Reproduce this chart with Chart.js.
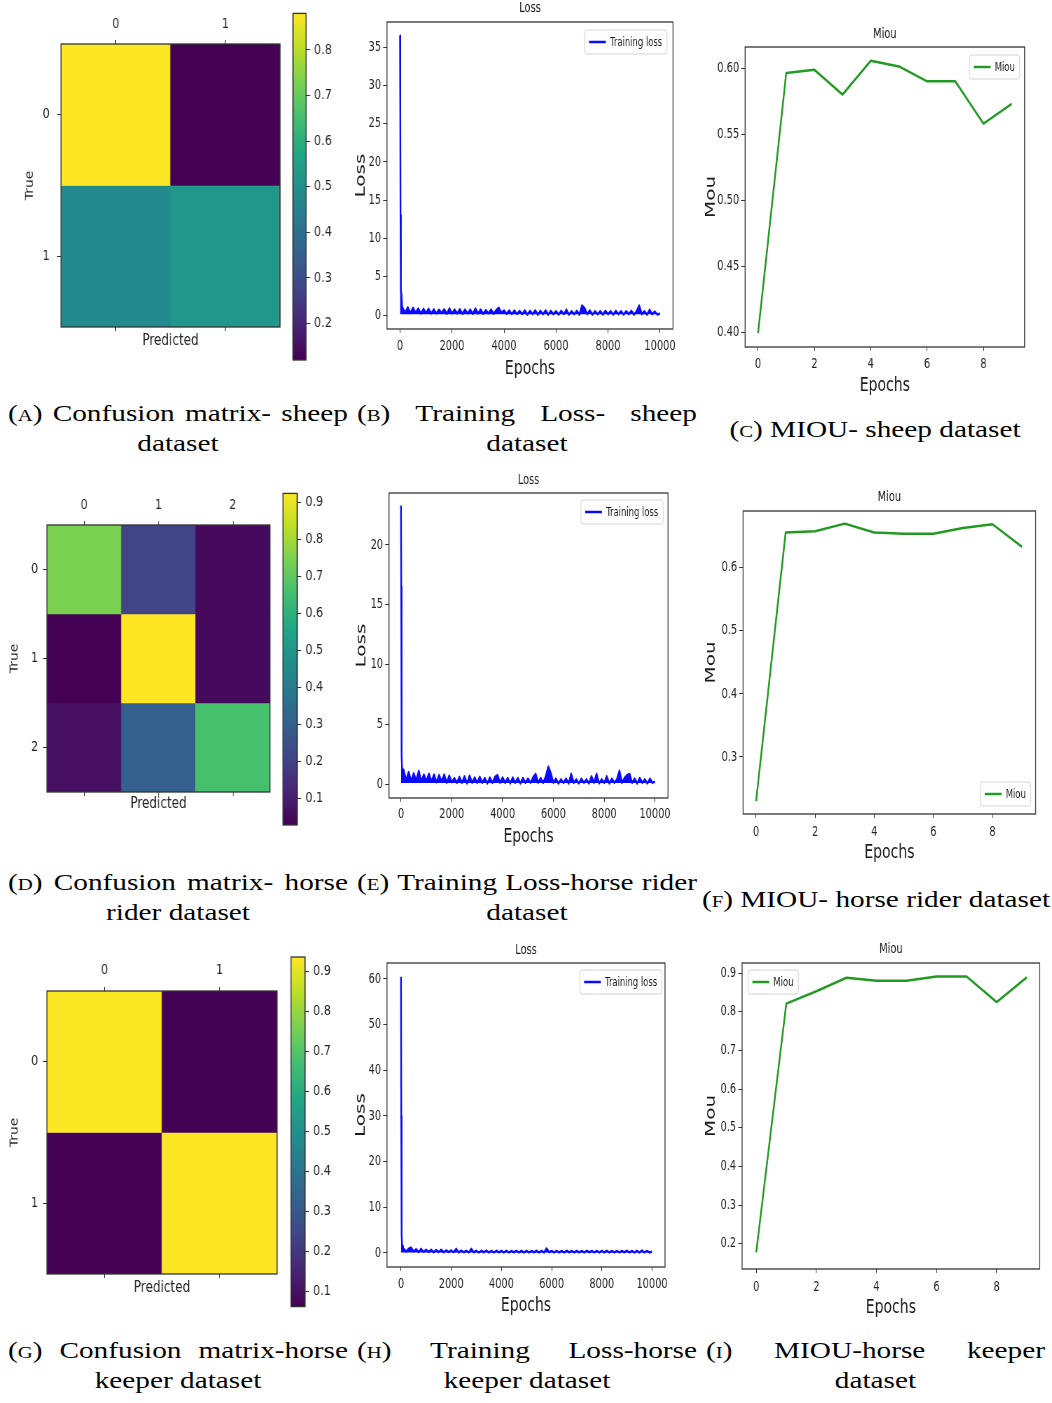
<!DOCTYPE html>
<html>
<head>
<meta charset="utf-8">
<script src="https://cdn.jsdelivr.net/npm/chart.js@4.4.0/dist/chart.umd.min.js"></script>
<style>
  body { margin: 0; background: #fff; }
  #figure { position: relative; width: 1052px; height: 1403px; overflow: hidden; background: #fff; }
  .box { position: absolute; transform-origin: 0 0; }
  .cap { position: absolute; font-family: 'Liberation Serif', 'Times New Roman', serif; font-size: 24px;
         line-height: 30px; color: #000; transform-origin: 0 0; transform: scaleX(1.22); white-space: nowrap; }
  .cap.j { display: flex; justify-content: space-between; }
  .cap.c { text-align: center; }
  .sc { font-variant: small-caps; }
</style>
</head>
<body>
<div id="figure"></div>
<script>
// ---- data ----
const miouEpochs = [0, 1, 2, 3, 4, 5, 6, 7, 8, 9];
const miouSheep  = [0.3995, 0.5964, 0.5987, 0.580, 0.6056, 0.6013, 0.590, 0.590, 0.558, 0.573];
const miouRider  = [0.230, 0.656, 0.658, 0.670, 0.656, 0.654, 0.654, 0.663, 0.669, 0.633];
const miouKeeper = [0.178, 0.821, 0.853, 0.888, 0.880, 0.880, 0.891, 0.891, 0.825, 0.889];

const lossEpochsEarly = [0, 10, 20, 30, 40, 60, 80];
const lossEpochs = [
  100, 200, 300, 400, 500, 600, 700, 800, 900, 1000,
  1100, 1200, 1300, 1400, 1500, 1600, 1700, 1800, 1900, 2000,
  2100, 2200, 2300, 2400, 2500, 2600, 2700, 2800, 2900, 3000,
  3100, 3200, 3300, 3400, 3500, 3600, 3700, 3800, 3900, 4000,
  4100, 4200, 4300, 4400, 4500, 4600, 4700, 4800, 4900, 5000,
  5100, 5200, 5300, 5400, 5500, 5600, 5700, 5800, 5900, 6000,
  6100, 6200, 6300, 6400, 6500, 6600, 6700, 6800, 6900, 7000,
  7100, 7200, 7300, 7400, 7500, 7600, 7700, 7800, 7900, 8000,
  8100, 8200, 8300, 8400, 8500, 8600, 8700, 8800, 8900, 9000,
  9100, 9200, 9300, 9400, 9500, 9600, 9700, 9800, 9900, 10000];

const lossSheepEarly = [36.5, 27, 13, 6, 3.2, 2.6, 1.2];
const lossSheep = [
  0.9, 0.3, 1.0, 0.25, 0.95, 0.3, 0.85, 0.2, 0.8, 0.25,
  0.8, 0.2, 0.75, 0.2, 0.7, 0.25, 0.75, 0.15, 0.85, 0.2,
  0.7, 0.2, 0.75, 0.15, 0.7, 0.2, 0.7, 0.15, 0.85, 0.2,
  0.7, 0.15, 0.65, 0.2, 0.7, 0.15, 0.65, 0.95, 0.3, 0.6,
  0.15, 0.6, 0.1, 0.6, 0.1, 0.55, 0.1, 0.6, 0.05, 0.55,
  0.1, 0.6, 0.05, 0.55, 0.1, 0.6, 0.05, 0.55, 0.1, 0.5,
  0.05, 0.55, 0.1, 0.7, 0.05, 0.5, 0.1, 0.55, 0.05, 1.25,
  0.9, 0.1, 0.6, 0.05, 0.5, 0.1, 0.5, 0.05, 0.55, 0.1,
  0.5, 0.05, 0.55, 0.1, 0.5, 0.05, 0.5, 0.1, 0.55, 0.05,
  0.5, 1.25, 0.1, 0.5, 0.05, 0.7, 0.1, 0.45, 0.05, 0.2];

const lossRiderEarly = [23.3, 16.5, 5, 2.4, 1.4, 1.2, 0.6];
const lossRider = [
  1.2, 0.3, 1.0, 0.25, 0.9, 0.3, 1.1, 0.2, 0.8, 0.25,
  0.85, 0.2, 0.8, 0.15, 0.75, 0.2, 0.8, 0.1, 0.7, 0.15,
  0.5, 0.1, 0.6, 0.1, 0.65, 0.05, 0.7, 0.1, 0.55, 0.1,
  0.6, 0.1, 0.5, 0.05, 0.55, 0.1, 0.6, 0.75, 0.1, 0.55,
  0.1, 0.5, 0.05, 0.55, 0.1, 0.5, 0.05, 0.5, 0.1, 0.45,
  0.1, 0.55, 0.85, 0.1, 0.5, 0.1, 0.65, 1.45, 0.9, 0.1,
  0.45, 0.05, 0.4, 0.1, 0.45, 0.05, 0.85, 0.1, 0.4, 0.05,
  0.45, 0.1, 0.4, 0.05, 0.65, 0.1, 0.85, 0.05, 0.4, 0.1,
  0.65, 0.05, 0.45, 0.1, 0.4, 1.1, 0.1, 0.5, 0.75, 0.85,
  0.1, 0.45, 0.05, 0.5, 0.1, 0.4, 0.05, 0.45, 0.1, 0.2];

const lossKeeperEarly = [60.5, 30, 7.5, 4, 2, 1.5, 0.8];
const lossKeeper = [
  1.0, 0.3, 0.9, 1.2, 0.3, 0.8, 0.2, 0.9, 0.25, 0.7,
  0.2, 0.7, 0.15, 0.65, 0.2, 0.7, 0.15, 0.6, 0.2, 0.55,
  0.15, 0.9, 0.1, 0.55, 0.15, 0.5, 0.1, 0.9, 0.15, 0.5,
  0.1, 0.5, 0.15, 0.55, 0.1, 0.5, 0.1, 0.5, 0.15, 0.45,
  0.1, 0.5, 0.1, 0.45, 0.15, 0.5, 0.1, 0.45, 0.1, 0.5,
  0.1, 0.45, 0.15, 0.5, 0.1, 0.45, 0.1, 1.0, 0.15, 0.45,
  0.1, 0.5, 0.1, 0.45, 0.1, 0.5, 0.15, 0.45, 0.1, 0.5,
  0.1, 0.45, 0.1, 0.5, 0.15, 0.45, 0.1, 0.5, 0.1, 0.45,
  0.15, 0.5, 0.1, 0.45, 0.1, 0.5, 0.1, 0.45, 0.15, 0.5,
  0.1, 0.45, 0.1, 0.5, 0.1, 0.55, 0.1, 0.45, 0.1, 0.3];

const cmLabelsSheep = ['0', '1'];
const cmSheep = [[0.88, 0.12], [0.48, 0.52]];
const cmLabelsRider = ['0', '1', '2'];
const cmRider = [[0.745, 0.205, 0.05], [0.027, 0.924, 0.049], [0.062, 0.30, 0.66]];
const cmLabelsKeeper = ['0', '1'];
const cmKeeper = [[0.935, 0.065], [0.063, 0.937]];

const cbTicksSheep = [0.2, 0.3, 0.4, 0.5, 0.6, 0.7, 0.8];
const cbTicksRider = [0.1, 0.2, 0.3, 0.4, 0.5, 0.6, 0.7, 0.8, 0.9];
const cbTicksKeeper = [0.1, 0.2, 0.3, 0.4, 0.5, 0.6, 0.7, 0.8, 0.9];

const epochTicks = [0, 2000, 4000, 6000, 8000, 10000];
const lossTicksSheep = [0, 5, 10, 15, 20, 25, 30, 35];
const lossTicksRider = [0, 5, 10, 15, 20];
const lossTicksKeeper = [0, 10, 20, 30, 40, 50, 60];
const miouEpochTicks = [0, 2, 4, 6, 8];
const miouTicksSheep = [0.40, 0.45, 0.50, 0.55, 0.60];
const miouTicksRider = [0.3, 0.4, 0.5, 0.6];
const miouTicksKeeper = [0.2, 0.3, 0.4, 0.5, 0.6, 0.7, 0.8, 0.9];

// ---- colour map ----
const VIRIDIS = ['#440154', '#482475', '#414487', '#355f8d', '#2a788e', '#21918c',
                 '#22a884', '#44bf70', '#7ad151', '#bddf26', '#fde725'];
function hexRgb(h) {
  return [1, 3, 5].map(i => parseInt(h.slice(i, i + 2), 16));
}
function viridis(t) {
  t = Math.max(0, Math.min(1, t));
  const k = t * 10, i = Math.min(9, Math.floor(k)), f = k - i;
  const a = hexRgb(VIRIDIS[i]), b = hexRgb(VIRIDIS[i + 1]);
  return 'rgb(' + a.map((v, j) => Math.round(v + (b[j] - v) * f)).join(',') + ')';
}
function viridisGradient(chart) {
  const a = chart.chartArea;
  if (!a) return viridis(0.5);
  const g = chart.ctx.createLinearGradient(0, a.bottom, 0, a.top);
  VIRIDIS.forEach((c, i) => g.addColorStop(i / (VIRIDIS.length - 1), c));
  return g;
}

Chart.defaults.font.family = "'DejaVu Sans', sans-serif";
Chart.defaults.color = '#262626';

// frame, title and legend box, matplotlib style
const panelPlugin = {
  id: 'panel',
  afterDraw(chart, args, o) {
    const {ctx, chartArea: a} = chart;
    ctx.save();
    ctx.strokeStyle = '#333';
    ctx.lineWidth = 1.3;
    ctx.strokeRect(a.left, a.top, a.right - a.left, a.bottom - a.top);
    if (o.title) {
      ctx.fillStyle = '#1a1a1a';
      ctx.font = '14px "DejaVu Sans"';
      ctx.textAlign = 'center';
      ctx.textBaseline = 'middle';
      ctx.fillText(o.title, (a.left + a.right) / 2, a.top - o.titleGap);
    }
    if (o.legend) {
      ctx.font = '12px "DejaVu Sans"';
      const w = 36 + ctx.measureText(o.legend).width + 7, h = 24;
      const x = o.corner.indexOf('right') >= 0 ? a.right - o.inset[0] - w : a.left + o.inset[0];
      const y = o.corner.indexOf('bottom') >= 0 ? a.bottom - o.inset[1] - h : a.top + o.inset[1];
      ctx.fillStyle = 'rgba(255,255,255,0.85)';
      ctx.strokeStyle = '#d2d2d2';
      ctx.lineWidth = 1;
      ctx.beginPath();
      ctx.roundRect(x, y, w, h, 3);
      ctx.fill();
      ctx.stroke();
      ctx.strokeStyle = o.color;
      ctx.lineWidth = 2.5;
      ctx.beginPath();
      ctx.moveTo(x + 6, y + h / 2);
      ctx.lineTo(x + 30, y + h / 2);
      ctx.stroke();
      ctx.fillStyle = '#1a1a1a';
      ctx.textAlign = 'left';
      ctx.textBaseline = 'middle';
      ctx.fillText(o.legend, x + 36, y + h / 2 + 0.5);
    }
    ctx.restore();
  }
};
Chart.register(panelPlugin);

const fig = document.getElementById('figure');

// the source figure is squeezed sideways, so each canvas is drawn wide and scaled down in x
function makeBox(left, top, width, height, s) {
  const div = document.createElement('div');
  div.className = 'box';
  div.style.left = left + 'px';
  div.style.top = top + 'px';
  div.style.width = (width / s) + 'px';
  div.style.height = height + 'px';
  div.style.transform = 'scaleX(' + s + ')';
  const cv = document.createElement('canvas');
  div.appendChild(cv);
  fig.appendChild(div);
  return cv;
}

function tickGrid(len) {
  return {display: true, drawOnChartArea: false, drawTicks: true, tickLength: len, color: '#333', offset: false};
}

function linePanel(p) {
  const s = p.s;
  const cv = makeBox(p.left, p.top, p.width, p.height, s);
  const W = p.width / s;
  const plotL = (p.plot[0] - p.left) / s;
  const plotR = (p.plot[2] - p.left) / s;
  const points = p.xs.map((x, i) => ({x: x, y: p.ys[i]}));
  new Chart(cv, {
    type: 'line',
    data: {datasets: [{label: p.legend, data: points, borderColor: p.color, borderWidth: p.lw,
                       borderJoinStyle: 'round', pointRadius: 0, tension: 0,
                       // noisy loss: the dense band of the original is shaded down to its floor
                       fill: p.floor === undefined ? false : {value: p.floor},
                       backgroundColor: p.color}]},
    options: {
      animation: false, responsive: true, maintainAspectRatio: false, events: [],
      layout: {padding: {left: 0, top: p.plot[1] - p.top, right: W - plotR, bottom: 0}},
      plugins: {
        legend: {display: false}, tooltip: {enabled: false},
        panel: {title: p.title, titleGap: p.titleGap, legend: p.legend, color: p.color, corner: p.corner, inset: p.inset}
      },
      scales: {
        x: {
          type: 'linear', min: p.xRange[0], max: p.xRange[1],
          afterBuildTicks: sc => { sc.ticks = p.xTicks.map(v => ({value: v})); },
          afterFit: sc => { sc.height = p.top + p.height - p.plot[3]; },
          ticks: {font: {size: 14}, padding: p.xPad, maxRotation: 0, autoSkip: false, callback: v => String(v)},
          grid: tickGrid(4),
          border: {display: false},
          title: {display: true, text: 'Epochs', font: {size: 20}, color: '#1a1a1a', padding: {top: 0, bottom: p.xTitlePad}}
        },
        y: {
          type: 'linear', min: p.yRange[0], max: p.yRange[1],
          afterBuildTicks: sc => { sc.ticks = p.yTicks.map(v => ({value: v})); },
          afterFit: sc => { sc.width = plotL; },
          ticks: {font: {size: 14}, padding: 3, autoSkip: false, callback: p.yFmt},
          grid: tickGrid(5.5),
          border: {display: false},
          title: {display: true, text: p.yTitle, font: {size: 20}, color: '#1a1a1a', padding: {top: p.yTitlePad, bottom: 0}}
        }
      }
    }
  });
}

function matrixRange(m) {
  const flat = m.flat();
  return [Math.min(...flat), Math.max(...flat)];
}

function matrixPanel(p) {
  const s = p.s;
  const cv = makeBox(p.left, p.top, p.width, p.height, s);
  const W = p.width / s;
  const plotL = (p.plot[0] - p.left) / s;
  const plotR = (p.plot[2] - p.left) / s;
  const [lo, hi] = matrixRange(p.matrix);
  const n = p.labels.length;
  const datasets = p.matrix.map((row, r) => ({
    data: row.map(() => [r, r + 1]),
    backgroundColor: row.map(v => viridis((v - lo) / (hi - lo))),
    borderWidth: 0, barPercentage: 1, categoryPercentage: 1, grouped: false
  }));
  new Chart(cv, {
    type: 'bar',
    data: {labels: p.labels, datasets: datasets},
    options: {
      animation: false, responsive: true, maintainAspectRatio: false, events: [],
      layout: {padding: {left: 0, top: 0, right: W - plotR, bottom: 0}},
      plugins: {legend: {display: false}, tooltip: {enabled: false}},
      scales: {
        x: {
          position: 'top', offset: true,
          afterFit: sc => { sc.height = p.plot[1] - p.top; },
          ticks: {font: {size: 14}, padding: p.topPad},
          grid: tickGrid(4),
          border: {display: false}
        },
        x2: {
          type: 'category', position: 'bottom', offset: true,
          afterFit: sc => { sc.height = p.top + p.height - p.plot[3]; },
          ticks: {display: false},
          grid: tickGrid(4),
          border: {display: false},
          title: {display: true, text: 'Predicted', font: {size: 15}, padding: {top: 0, bottom: p.predPad}}
        },
        y: {
          type: 'linear', min: 0, max: n, reverse: true,
          afterBuildTicks: sc => { sc.ticks = p.labels.map((l, i) => ({value: i + 0.5})); },
          afterFit: sc => { sc.width = plotL; },
          ticks: {font: {size: 14}, padding: p.yPad, callback: (v, i) => p.labels[i]},
          grid: tickGrid(5),
          border: {display: false},
          title: {display: true, text: 'True', font: {size: 14}, padding: {top: p.truePad, bottom: 0}}
        }
      }
    }
  });
}

function colorbarPanel(p) {
  const s = p.s;
  const cv = makeBox(p.left, p.top, p.width, p.height, s);
  const W = p.width / s;
  const barL = (p.bar[0] - p.left) / s;
  const barR = (p.bar[2] - p.left) / s;
  const [lo, hi] = matrixRange(p.matrix);
  new Chart(cv, {
    type: 'bar',
    data: {labels: ['scale'], datasets: [{data: [[lo, hi]], backgroundColor: c => viridisGradient(c.chart),
                                          borderWidth: 0, barPercentage: 1, categoryPercentage: 1}]},
    options: {
      animation: false, responsive: true, maintainAspectRatio: false, events: [],
      layout: {padding: {left: barL, top: p.bar[1] - p.top, right: 0, bottom: p.top + p.height - p.bar[3]}},
      plugins: {legend: {display: false}, tooltip: {enabled: false}},
      scales: {
        x: {display: false},
        y: {
          position: 'right', min: lo, max: hi,
          afterBuildTicks: sc => { sc.ticks = p.ticks.map(v => ({value: v})); },
          afterFit: sc => { sc.width = W - barR; },
          ticks: {font: {size: 14}, padding: 5, callback: v => v.toFixed(1)},
          grid: tickGrid(5),
          border: {display: false}
        }
      }
    }
  });
}

const BLUE = '#0a0aff', GREEN = '#229922';
const lossX = lossEpochsEarly.concat(lossEpochs);

// ---- row 1: sheep ----
matrixPanel({left: 0, top: 0, width: 285, height: 370, s: 0.8, plot: [61, 44, 280, 327],
  labels: cmLabelsSheep, matrix: cmSheep, topPad: 7, yPad: 9, truePad: 29, predPad: 20});
colorbarPanel({left: 285, top: 0, width: 65, height: 385, s: 0.8, bar: [293, 10, 306, 360],
  matrix: cmSheep, ticks: cbTicksSheep});
linePanel({left: 350, top: 0, width: 350, height: 385, s: 0.7, plot: [387, 22, 673, 329],
  xs: lossX, ys: lossSheepEarly.concat(lossSheep), color: BLUE, lw: 2.4, floor: 0.1,
  xRange: [-500, 10500], yRange: [-1.83, 38.3], xTicks: epochTicks, yTicks: lossTicksSheep,
  yFmt: v => String(v), yTitle: 'Loss', title: 'Loss', titleGap: 14, legend: 'Training loss',
  corner: 'top-right', inset: [8.6, 8], xPad: 5, xTitlePad: 4, yTitlePad: 3.7});
linePanel({left: 700, top: 20, width: 352, height: 380, s: 0.7, plot: [745, 47, 1024, 347],
  xs: miouEpochs, ys: miouSheep, color: GREEN, lw: 2.5,
  xRange: [-0.46, 9.46], yRange: [0.389, 0.616], xTicks: miouEpochTicks, yTicks: miouTicksSheep,
  yFmt: v => v.toFixed(2), yTitle: 'Mou', title: 'Miou', titleGap: 13, legend: 'Miou',
  corner: 'top-right', inset: [7, 8], xPad: 5, xTitlePad: 2, yTitlePad: 3.7});

// ---- row 2: horse rider ----
matrixPanel({left: 0, top: 480, width: 280, height: 350, s: 0.8, plot: [47, 525, 270, 792],
  labels: cmLabelsRider, matrix: cmRider, topPad: 7, yPad: 6, truePad: 10, predPad: 17});
colorbarPanel({left: 280, top: 480, width: 70, height: 360, s: 0.8, bar: [283, 492, 297, 825],
  matrix: cmRider, ticks: cbTicksRider});
linePanel({left: 350, top: 470, width: 350, height: 385, s: 0.7, plot: [389, 493, 668, 798],
  xs: lossX, ys: lossRiderEarly.concat(lossRider), color: BLUE, lw: 2.4, floor: 0.08,
  xRange: [-472, 10512], yRange: [-1.17, 24.35], xTicks: epochTicks, yTicks: lossTicksRider,
  yFmt: v => String(v), yTitle: 'Loss', title: 'Loss', titleGap: 13, legend: 'Training loss',
  corner: 'top-right', inset: [7, 7], xPad: 4, xTitlePad: 6, yTitlePad: 5});
linePanel({left: 700, top: 480, width: 352, height: 390, s: 0.7, plot: [743, 511, 1035, 814],
  xs: miouEpochs, ys: miouRider, color: GREEN, lw: 2.5,
  xRange: [-0.44, 9.46], yRange: [0.2095, 0.690], xTicks: miouEpochTicks, yTicks: miouTicksRider,
  yFmt: v => v.toFixed(1), yTitle: 'Mou', title: 'Miou', titleGap: 14, legend: 'Miou',
  corner: 'bottom-right', inset: [7, 8], xPad: 6, xTitlePad: 5, yTitlePad: 3.7});

// ---- row 3: horse keeper ----
matrixPanel({left: 0, top: 950, width: 285, height: 360, s: 0.8, plot: [47, 991, 277, 1274],
  labels: cmLabelsKeeper, matrix: cmKeeper, topPad: 8, yPad: 6, truePad: 10, predPad: 13});
colorbarPanel({left: 285, top: 940, width: 65, height: 380, s: 0.8, bar: [291, 957, 305, 1308],
  matrix: cmKeeper, ticks: cbTicksKeeper});
linePanel({left: 350, top: 940, width: 350, height: 380, s: 0.7, plot: [387, 963, 665, 1267],
  xs: lossX, ys: lossKeeperEarly.concat(lossKeeper), color: BLUE, lw: 2.4, floor: 0.1,
  xRange: [-558, 10518], yRange: [-3.07, 63.5], xTicks: epochTicks, yTicks: lossTicksKeeper,
  yFmt: v => String(v), yTitle: 'Loss', title: 'Loss', titleGap: 13, legend: 'Training loss',
  corner: 'top-right', inset: [4.3, 7], xPad: 5, xTitlePad: 2, yTitlePad: 3.7});
linePanel({left: 700, top: 940, width: 352, height: 380, s: 0.7, plot: [742, 963, 1039, 1269],
  xs: miouEpochs, ys: miouKeeper, color: GREEN, lw: 2.5,
  xRange: [-0.47, 9.43], yRange: [0.135, 0.926], xTicks: miouEpochTicks, yTicks: miouTicksKeeper,
  yFmt: v => v.toFixed(1), yTitle: 'Mou', title: 'Miou', titleGap: 14, legend: 'Miou',
  corner: 'top-left', inset: [8.6, 7], xPad: 6, xTitlePad: 0, yTitlePad: 3.7});

// ---- captions ----
function caption(words, x, baseline, w, mode) {
  const d = document.createElement('div');
  d.className = 'cap ' + mode;
  d.style.left = x + 'px';
  d.style.top = (baseline - 23) + 'px';
  d.style.width = (w / 1.22) + 'px';
  if (mode === 'j') {
    words.forEach(t => { const sp = document.createElement('span'); sp.innerHTML = t; d.appendChild(sp); });
  } else {
    d.innerHTML = words.join(' ');
  }
  fig.appendChild(d);
}
caption(['<span class="sc">(a)</span>', 'Confusion', 'matrix-', 'sheep'], 8, 421, 340, 'j');
caption(['dataset'], 8, 451, 340, 'c');
caption(['<span class="sc">(b)</span>', 'Training', 'Loss-', 'sheep'], 357, 421, 340, 'j');
caption(['dataset'], 357, 451, 340, 'c');
caption(['<span class="sc">(c)</span>', 'MIOU-', 'sheep', 'dataset'], 700, 437, 350, 'c');

caption(['<span class="sc">(d)</span>', 'Confusion', 'matrix-', 'horse'], 8, 890, 340, 'j');
caption(['rider dataset'], 8, 920, 340, 'c');
caption(['<span class="sc">(e)</span>', 'Training', 'Loss-horse', 'rider'], 357, 890, 340, 'j');
caption(['dataset'], 357, 920, 340, 'c');
caption(['<span class="sc">(f)</span>', 'MIOU-', 'horse', 'rider', 'dataset'], 698, 907, 356, 'c');

caption(['<span class="sc">(g)</span>', 'Confusion', 'matrix-horse'], 8, 1358, 340, 'j');
caption(['keeper dataset'], 8, 1388, 340, 'c');
caption(['<span class="sc">(h)</span>', 'Training', 'Loss-horse'], 357, 1358, 340, 'j');
caption(['keeper dataset'], 357, 1388, 340, 'c');
caption(['<span class="sc">(i)</span>', 'MIOU-horse', 'keeper'], 706, 1358, 339, 'j');
caption(['dataset'], 706, 1388, 339, 'c');
</script>
</body>
</html>
